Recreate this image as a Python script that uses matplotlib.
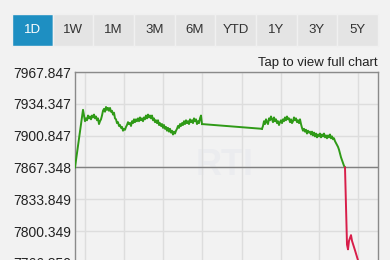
import matplotlib
matplotlib.use("Agg")
import matplotlib.pyplot as plt
from matplotlib.patches import Rectangle

plt.rcParams['font.family'] = ['Liberation Sans', 'DejaVu Sans']

# ---- data ----
periods = ["1D", "1W", "1M", "3M", "6M", "YTD", "1Y", "3Y", "5Y"]
active_period = "1D"

y_ticks = [7967.847, 7934.347, 7900.847, 7867.348, 7833.849, 7800.349, 7766.850]
y_tick_labels = ["7967.847", "7934.347", "7900.847", "7867.348", "7833.849", "7800.349", "7766.850"]
prev_close = 7867.348

# morning session (minute index 8..127), after open at index 0
morning_x = [0] + list(range(8, 128))
morning_y = [7867.3,
             7928, 7922, 7916, 7919, 7917, 7922, 7919, 7921, 7918, 7922,
             7920, 7923, 7919, 7921, 7917, 7919, 7913, 7916, 7918, 7922,
             7927, 7929, 7926, 7931, 7928, 7930, 7927, 7930, 7926, 7927,
             7923, 7925, 7919, 7918, 7914, 7915, 7911, 7912, 7909, 7910,
             7906, 7908, 7907, 7910, 7912, 7915, 7913, 7914, 7911, 7916,
             7914, 7918, 7915, 7918, 7916, 7919, 7916, 7920, 7917, 7919,
             7916, 7920, 7918, 7922, 7919, 7923, 7920, 7922, 7919, 7922,
             7917, 7919, 7915, 7917, 7914, 7917, 7912, 7914, 7911, 7913,
             7909, 7912, 7908, 7910, 7906, 7909, 7905, 7908, 7904, 7906,
             7902, 7905, 7903, 7906, 7908, 7911, 7909, 7913, 7911, 7914,
             7912, 7916, 7913, 7917, 7914, 7916, 7913, 7918, 7915, 7917,
             7914, 7919, 7916, 7918, 7913, 7916, 7914, 7919, 7922, 7913]
# afternoon session (minute index 187..270)
afternoon_x = list(range(187, 271))
afternoon_y = [7908,
               7911, 7916, 7913, 7918, 7915, 7913, 7919, 7917, 7921, 7918,
               7915, 7920, 7916, 7918, 7914, 7916, 7912, 7915, 7917, 7914,
               7918, 7916, 7920, 7917, 7921, 7918, 7919, 7915, 7918, 7914,
               7916, 7920, 7917, 7919, 7915, 7917, 7914, 7918, 7913, 7909,
               7906, 7908, 7905, 7907, 7903, 7906, 7904, 7905, 7902, 7905,
               7901, 7904, 7900, 7903, 7899, 7902, 7900, 7903, 7899, 7902,
               7900, 7903, 7899, 7901, 7898, 7901, 7899, 7902, 7898, 7900,
               7897, 7898, 7895, 7893, 7891, 7889, 7886, 7882, 7878, 7875,
               7872, 7869, 7867.3]
red_x = [270, 272, 273, 274, 276, 277, 280, 288]
red_y = [7867.3, 7786, 7781, 7790, 7796, 7790, 7780, 7752]

# ---- layout ----
W, H = 390, 260
fig = plt.figure(figsize=(W / 100, H / 100), dpi=100)
bg = "#f2f2f2"
fig.patch.set_facecolor(bg)

def fx(px):
    return px / W

def fy(py):
    return 1 - py / H

# period buttons
btn_left, btn_right, btn_top, btn_bot = 12, 378, 14, 46
bw = (btn_right - btn_left) / len(periods)
for i, p in enumerate(periods):
    x0 = btn_left + i * bw
    active = p == active_period
    fig.add_artist(Rectangle((fx(x0), fy(btn_bot)), fx(bw), fy(btn_top) - fy(btn_bot),
                             transform=fig.transFigure,
                             facecolor="#1e8fc2" if active else "#e4e4e4",
                             edgecolor="#f0f0f0", linewidth=1.0))
    fig.text(fx(x0 + bw / 2), fy((btn_top + btn_bot) / 2), p, ha="center", va="center",
             fontsize=9.5, color="white" if active else "#333333")

fig.text(fx(378), fy(63), "Tap to view full chart", ha="right", va="center",
         fontsize=9.5, color="#222222")

# axes
ax_left, ax_right, ax_top = 75, 378, 72
ymax, ymin = 7967.847, 7733.35
px_per_unit = 31.8 / 33.4995
ax_bottom = ax_top + (ymax - ymin) * px_per_unit
ax = fig.add_axes([fx(ax_left), fy(ax_bottom), fx(ax_right - ax_left), fy(ax_top) - fy(ax_bottom)])
ax.set_facecolor(bg)
ax.set_xlim(0, ax_right - ax_left)
ax.set_ylim(ymin, ymax)

ax.set_yticks(y_ticks)
ax.set_yticklabels(y_tick_labels)
ax.set_xticks([10, 49, 88, 127, 167, 206, 244, 283])
ax.set_xticklabels([])
ax.tick_params(length=0, labelsize=10, colors="#222222", pad=3)
ax.grid(True, color="#dddddd", linewidth=1.0)
ax.set_axisbelow(True)
for side in ["left", "right", "top"]:
    ax.spines[side].set_color("#8a8a8a")
    ax.spines[side].set_linewidth(1.0)
ax.spines["bottom"].set_visible(False)

ax.text(150, 7869, "RTI", ha="center", va="center", fontsize=26, fontweight="bold",
        color="#ebecef", zorder=0)

ax.axhline(prev_close, color="#808080", linewidth=1.0, zorder=2)
ax.plot(morning_x, morning_y, color="#2f9a17", linewidth=1.4, zorder=3)
ax.plot([morning_x[-1], afternoon_x[0]], [morning_y[-1], afternoon_y[0]],
        color="#2f9a17", linewidth=1.4, zorder=3)
ax.plot(afternoon_x, afternoon_y, color="#2f9a17", linewidth=1.4, zorder=3)
ax.plot(red_x, red_y, color="#d81e4a", linewidth=1.4, zorder=3)

fig.savefig("out.png", dpi=100, facecolor=bg)
